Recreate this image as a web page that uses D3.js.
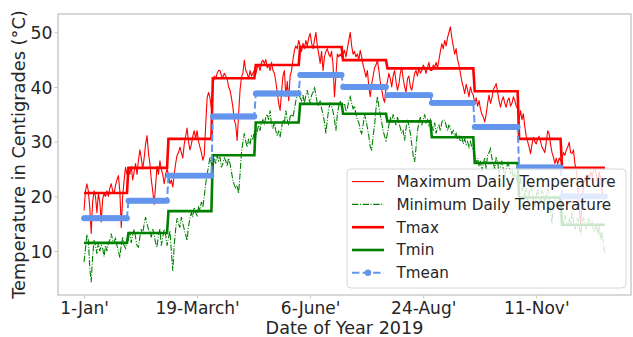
<!DOCTYPE html>
<html>
<head>
<meta charset="utf-8">
<script src="https://cdn.jsdelivr.net/npm/d3@7"></script>
<style>
  html, body { margin: 0; padding: 0; background: #fff; }
  svg { display: block; font-family: "DejaVu Sans", sans-serif; }
</style>
</head>
<body>
<svg id="chart" width="633" height="337"></svg>
<script>
// ---- data: daily temperatures for 2019 (°C) ----
const monthDays = [31, 28, 31, 30, 31, 30, 31, 31, 30, 31, 30, 31];

const dailyMax = [
  // Jan
  17.4, 21, 22.3, 21, 18, 13.2, 19, 21, 20, 17, 20.5, 19, 15.3, 19.5, 20.5, 20, 21, 20, 21.5, 22.3, 21, 20.5, 22, 23, 23.8, 21, 14.3, 20, 23, 25.3, 24,
  // Feb
  25, 24, 25.5, 23, 24.5, 26, 24, 26.5, 28.5, 27, 25, 27, 29.5, 31.1, 28, 26, 23, 21, 18.5, 22, 25.5, 24, 26.5, 25, 24, 22.3, 24, 25,
  // Mar
  24, 22.3, 23, 21.7, 24, 26, 27.5, 28, 29, 28, 27, 29.5, 31, 32.5, 30, 28.5, 29.5, 31, 32, 30.5, 32, 30, 29, 28, 26.6, 27.5, 33, 38, 39, 38, 36,
  // Apr
  40, 42, 41.5, 42.5, 43, 43, 42, 41.8, 42.5, 42, 41.5, 40, 39.4, 38, 36.3, 34, 33, 30.2, 35, 39.4, 41.8, 42.5, 44.9, 43, 42.5, 41.5, 43, 42, 42.5, 43,
  // May
  42.4, 43.5, 44, 43, 44.5, 44.9, 44.3, 45, 43.5, 44, 43, 44.5, 43, 42.5, 41, 39, 37, 35.7, 39, 42, 43, 38.2, 41, 37.5, 42, 43, 45, 46.7, 47.5, 47, 48.5,
  // Jun
  47.5, 46.5, 48, 47, 48.5, 47.5, 49, 49.8, 48, 47, 48.5, 50, 47.5, 46, 44.3, 46.5, 43, 45.5, 46.5, 47, 46, 45.5, 46.5, 44, 38.2, 42, 46, 45.5, 46, 45.5,
  // Jul
  46, 46.7, 45.5, 47, 48.5, 50, 47.5, 46, 46.5, 45.5, 46, 45, 46.7, 45.5, 44, 43, 41.8, 43, 40, 38.2, 40.5, 42, 43.5, 44, 44.9, 43, 41, 39.5, 38, 37.2, 40,
  // Aug
  41, 42.5, 41.5, 40, 42, 43, 41, 39.4, 40.5, 42.5, 43.6, 41.5, 40, 39, 41.5, 42, 40, 39.4, 41, 42.5, 43, 42, 43.5, 42.5, 43, 44, 43.5, 42.5, 43.5, 44.5, 43,
  // Sep
  43, 44, 43.5, 44.5, 43.5, 45, 46.5, 47.9, 47, 48.5, 47.5, 49, 50, 51, 49, 47.5, 46, 47, 45, 44, 42.5, 41, 40, 38.8, 40.5, 39.4, 38.2, 40, 39, 38.5,
  // Oct
  37, 38, 36.5, 37.5, 36, 35, 34.5, 33.6, 35, 37, 38.5, 37, 38, 39.5, 40, 40.6, 39, 37.5, 36.3, 37.5, 38.2, 37, 36.3, 37.5, 38, 36.5, 37, 38.2, 37.5, 36.5, 36,
  // Nov
  34, 35.7, 34, 35.1, 32.7, 31, 30, 29, 27.8, 29.5, 30.8, 30, 29.6, 30.5, 31, 30, 29, 28.5, 28, 30, 32, 31.4, 29.5, 28, 27.2, 26, 27, 25.9, 27, 26.5,
  // Dec
  27, 28, 27.5, 28.5, 29, 29.9, 28, 27.8, 28.5, 26, 24.7, 22, 18, 15, 19, 22, 23.5, 22.5, 24, 23, 24.5, 23.5, 24.7, 25, 24, 22, 24.5, 23, 21, 19.5, 20
];

const dailyMin = [
  // Jan
  8, 10.5, 13, 12, 7, 4.3, 9, 12, 11, 9.5, 11.5, 10, 11, 10.5, 9, 11, 10, 11.5, 12, 13.2, 12, 11.5, 12.5, 11, 10, 8.8, 11, 12.5, 11, 10.5, 12,
  // Feb
  12, 13.5, 11.5, 13, 14, 12.5, 11, 10.7, 12.5, 14, 13, 15, 16.2, 15, 14, 13.5, 12.5, 14, 13, 11.5, 10.7, 13, 14, 11, 12.5, 14, 13, 11,
  // Mar
  12.4, 13.7, 10, 6.4, 11, 14, 16, 15, 14.3, 16.2, 15, 14, 13, 11.9, 14.5, 16, 17, 16.2, 18, 17, 16.5, 18, 17.5, 19, 18, 20, 22.3, 24, 25.5, 27.2, 26,
  // Apr
  25, 27, 26, 27.5, 26.5, 27.2, 25.3, 26, 27, 26.5, 25.5, 27, 26, 24.5, 23, 22, 21.5, 22, 20.5, 24, 28, 30, 31.5, 30, 29, 30.5, 29.5, 31, 30.5, 32,
  // May
  30.8, 32, 33, 32, 33.5, 34, 33, 34.5, 35, 34, 35.7, 33, 32.5, 33.5, 32, 31, 32, 30.8, 32.5, 34, 33.5, 35.7, 34, 33, 34.5, 35, 34.5, 36, 37.5, 38.5, 39.4,
  // Jun
  38, 37.5, 38.5, 37, 38.5, 39.4, 38, 37, 38.5, 39, 40, 38.5, 37, 36.5, 37.5, 36, 35, 33.5, 31.5, 34, 36, 37, 36.5, 35.5, 34, 32, 35, 36.5, 37.5, 36.5,
  // Jul
  36.5, 37, 35.5, 36, 37.5, 38.2, 37, 36, 36.5, 35, 34, 33.5, 32, 31.5, 33, 35, 34, 32.5, 31, 29, 28.5, 31, 33, 36, 38.2, 36.5, 35, 33.5, 32, 31, 30.2,
  // Aug
  31.5, 33, 34.5, 33.5, 35, 34, 33, 34.5, 33.5, 32.5, 31.5, 32, 30.2, 32.5, 34, 33, 31.5, 29.5, 27.5, 26.3, 29, 32, 33.5, 34.5, 33, 34, 35, 33.5, 34, 33, 34,
  // Sep
  33, 32, 33.5, 31.5, 32.5, 33, 32, 33.5, 34, 33.9, 33, 32, 33, 32.5, 31.5, 32, 31, 31.5, 30.5, 31, 30, 30.8, 29.6, 30.5, 29.5, 30, 29, 30, 29, 28.5,
  // Oct
  27.5, 26, 27, 25.5, 26.5, 24.5, 26, 27, 25, 27.5, 28, 28.7, 27, 26, 25, 27, 26.5, 24, 25.5, 26.5, 25, 23.5, 25, 26, 25.5, 24, 25, 23, 24.5, 23.5, 22,
  // Nov
  22, 23.5, 21, 22.5, 20, 21.5, 19, 20.5, 22, 21, 19.5, 18, 20, 21.5, 20, 19, 21, 20.5, 18.5, 20, 21.5, 20, 17, 15, 18.5, 20, 19, 18, 19.5, 17.5,
  // Dec
  16, 15, 16.5, 15.5, 14.5, 16, 15, 17, 15.5, 14, 15, 16, 14.5, 13, 15, 16, 15.5, 14, 15, 16, 14.5, 15.5, 13.5, 14, 15, 13, 14.5, 12, 13.5, 11, 9.5
];

// monthly summaries
const monthlyTmax  = [20.6, 25.2, 30.5, 41.6, 44.0, 47.3, 44.9, 43.4, 43.4, 39.2, 30.5, 25.2];
const monthlyTmin  = [11.5, 13.3, 17.3, 27.5, 33.5, 36.9, 35.1, 33.7, 30.8, 26.1, 19.8, 14.8];
const monthlyTmean = [16.0, 19.2, 23.8, 34.6, 38.8, 42.2, 40.0, 38.5, 37.1, 32.7, 25.3, 20.0];

// x-axis ticks (day index of year) and their labels
const xTickDays   = [0, 79, 158, 237, 316];
const xTickLabels = ["1-Jan'", "19-March'", "6-June'", "24-Aug'", "11-Nov'"];
const yTicks      = [10, 20, 30, 40, 50];

// ---- layout ----
const svg = d3.select("#chart");
const plot = { left: 58, right: 631, top: 14, bottom: 295 };

// expand a monthly series to one value per day
function perDay(monthly) {
  const out = [];
  monthly.forEach((v, m) => { for (let i = 0; i < monthDays[m]; i++) out.push(v); });
  return out;
}
const stepMax = perDay(monthlyTmax);
const stepMin = perDay(monthlyTmin);
const stepMean = perDay(monthlyTmean);
const nDays = dailyMax.length;

// padded domains (5% margin on each side)
function padded(lo, hi) { const m = (hi - lo) * 0.05; return [lo - m, hi + m]; }
const allVals = dailyMax.concat(dailyMin, stepMax, stepMin, stepMean);
const x = d3.scaleLinear().domain(padded(0, nDays - 1)).range([plot.left, plot.right]);
const y = d3.scaleLinear().domain(padded(d3.min(allVals), d3.max(allVals))).range([plot.bottom, plot.top]);

const line = d3.line().x((d, i) => x(i)).y(d => y(d));

const textColor = "#262626";
const spineColor = "#c4c4c4";

// ---- axes ----
const xAxis = d3.axisBottom(x).tickValues(xTickDays).tickFormat((d, i) => xTickLabels[i])
  .tickSizeInner(3.5).tickSizeOuter(0).tickPadding(3);
const gx = svg.append("g").attr("transform", `translate(0,${plot.bottom})`).call(xAxis);
gx.select(".domain").remove();
gx.selectAll(".tick line").attr("stroke", spineColor).attr("stroke-width", 1);
gx.selectAll(".tick text").attr("fill", textColor).attr("font-size", "17px")
  .attr("font-family", "DejaVu Sans").attr("dy", "0.71em");

const yAxis = d3.axisLeft(y).tickValues(yTicks).tickFormat(d3.format("d"))
  .tickSizeInner(3.5).tickSizeOuter(0).tickPadding(2);
const gy = svg.append("g").attr("transform", `translate(${plot.left},0)`).call(yAxis);
gy.select(".domain").remove();
gy.selectAll(".tick line").attr("stroke", spineColor).attr("stroke-width", 1);
gy.selectAll(".tick text").attr("fill", textColor).attr("font-size", "17.3px")
  .attr("font-family", "DejaVu Sans").attr("dy", "0.36em");

// axis titles
svg.append("text")
  .attr("x", (plot.left + plot.right) / 2).attr("y", 333.5)
  .attr("text-anchor", "middle").attr("font-size", "17.6px").attr("fill", textColor)
  .text("Date of Year 2019");
svg.append("text")
  .attr("transform", `translate(24.7,${(plot.top + plot.bottom) / 2}) rotate(-90)`)
  .attr("text-anchor", "middle").attr("font-size", "17.8px").attr("fill", textColor)
  .text("Temperature in Centigrades (°C)");

// ---- series ----
const red = "#ff0000", green = "#008000", blue = "#6495ed";

svg.append("path").datum(dailyMax).attr("d", line)
  .attr("fill", "none").attr("stroke", red).attr("stroke-width", 1.1).attr("stroke-linejoin", "round");
svg.append("path").datum(dailyMin).attr("d", line)
  .attr("fill", "none").attr("stroke", green).attr("stroke-width", 1.1)
  .attr("stroke-dasharray", "6.4,1.6,1,1.6");
svg.append("path").datum(stepMax).attr("d", line)
  .attr("fill", "none").attr("stroke", red).attr("stroke-width", 2.6);
svg.append("path").datum(stepMin).attr("d", line)
  .attr("fill", "none").attr("stroke", green).attr("stroke-width", 2.6);
svg.append("path").datum(stepMean).attr("d", line)
  .attr("fill", "none").attr("stroke", blue).attr("stroke-width", 2)
  .attr("stroke-dasharray", "7.4,3.2");
svg.append("g").selectAll("circle").data(stepMean).join("circle")
  .attr("cx", (d, i) => x(i)).attr("cy", d => y(d)).attr("r", 2.9).attr("fill", blue);

// ---- frame ----
svg.append("rect")
  .attr("x", plot.left).attr("y", plot.top)
  .attr("width", plot.right - plot.left).attr("height", plot.bottom - plot.top)
  .attr("fill", "none").attr("stroke", spineColor).attr("stroke-width", 1.3);

// ---- legend ----
const legendItems = [
  { label: "Maximum Daily Temperature", color: red, width: 1.1 },
  { label: "Minimum Daily Temperature", color: green, width: 1.1, dash: "6.4,1.6,1,1.6" },
  { label: "Tmax", color: red, width: 2.6 },
  { label: "Tmin", color: green, width: 2.6 },
  { label: "Tmean", color: blue, width: 2, dash: "7.4,3.2", marker: true }
];
const lg = svg.append("g");
lg.append("rect")
  .attr("x", 347).attr("y", 169).attr("width", 279).attr("height", 119)
  .attr("rx", 4).attr("fill", "#ffffff").attr("fill-opacity", 0.8)
  .attr("stroke", "#d6d6d6").attr("stroke-width", 1);
legendItems.forEach((it, i) => {
  const cy = 181.6 + i * 22.8;
  const hx0 = 352, hx1 = 384;
  const ln = lg.append("line").attr("x1", hx0).attr("x2", hx1).attr("y1", cy).attr("y2", cy)
    .attr("stroke", it.color).attr("stroke-width", it.width);
  if (it.dash) ln.attr("stroke-dasharray", it.dash);
  if (it.marker) {
    lg.append("circle").attr("cx", (hx0 + hx1) / 2).attr("cy", cy).attr("r", 3.2).attr("fill", it.color);
  }
  lg.append("text").attr("x", 396.5).attr("y", cy).attr("dy", "0.36em")
    .attr("font-size", "15.2px").attr("fill", textColor).text(it.label);
});
</script>
</body>
</html>
